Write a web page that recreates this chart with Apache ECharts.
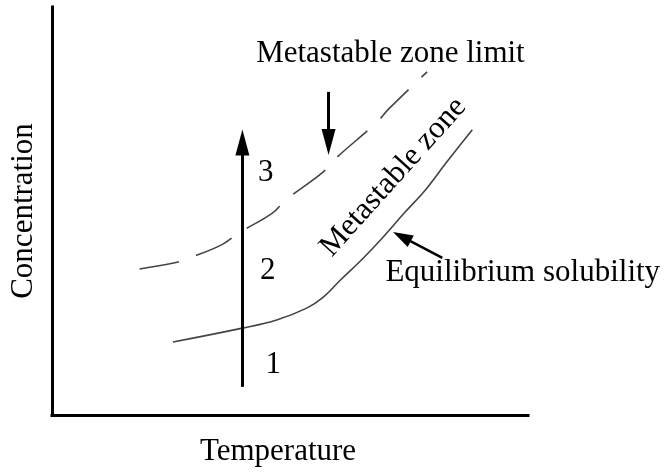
<!DOCTYPE html>
<html>
<head>
<meta charset="utf-8">
<script src="https://cdn.jsdelivr.net/npm/echarts@6/dist/echarts.min.js"></script>
<style>
  html, body { margin: 0; padding: 0; background: #fff; }
  #main { width: 665px; height: 476px; }
</style>
</head>
<body>
<div id="main"></div>
<script>
// curves (axis units 0..100)
var solTemp = [25.4, 40.0, 47.2, 53.5, 57.0, 60.6, 65.0, 69.4, 74.0, 78.4, 82.8, 88.3];
var solConc = [17.9, 21.3, 23.3, 26.2, 28.9, 33.1, 38.0, 43.4, 49.5, 55.1, 61.8, 69.9];
var limTemp = [18.4, 25.8, 28.9, 35.6, 39.2, 46.3, 49.1, 57.0, 59.7, 68.1, 70.9, 78.8];
var limConc = [35.8, 37.3, 38.5, 41.7, 44.6, 49.5, 52.7, 59.6, 63.0, 71.6, 75.2, 84.1];

// annotations
var noteText = ['Metastable zone limit', 'Equilibrium solubility', 'Metastable zone', '1', '2', '3'];
var noteTemp = [71.1, 98.9, 71.7, 46.5, 45.3, 44.9];
var noteConc = [88.4, 34.9, 58.3, 12.4, 35.3, 59.4];
var noteRot = [0, 0, 48, 0, 0, 0];

// arrows: [fromTemp, fromConc, toTemp, toConc]
var arrowUp = [40.0, 6.9, 40.0, 66.8];
var arrowDown = [58.1, 79.2, 58.1, 66.9];
var arrowSol = [82.0, 38.5, 73.5, 43.7];

var serif = 'Liberation Serif, Times New Roman, serif';

var chart = echarts.init(document.getElementById('main'), null, { renderer: 'canvas' });

function pairs(xs, ys) {
  return xs.map(function (x, i) { return [x, ys[i]]; });
}

var option = {
  animation: false,
  grid: { left: 51, right: 137, top: 7, bottom: 61 },
  xAxis: {
    type: 'value',
    min: 0,
    max: 100,
    name: 'Temperature',
    nameLocation: 'middle',
    nameGap: 21,
    nameTextStyle: { fontFamily: serif, fontSize: 31, color: '#000', padding: [0, 24, 0, 0] },
    axisLine: { show: true, lineStyle: { color: '#000', width: 3, cap: 'square' } },
    axisTick: { show: false },
    axisLabel: { show: false },
    splitLine: { show: false }
  },
  yAxis: {
    type: 'value',
    min: 0,
    max: 100,
    name: 'Concentration',
    nameLocation: 'middle',
    nameGap: 13,
    nameTextStyle: { fontFamily: serif, fontSize: 31, color: '#000' },
    axisLine: { show: true, lineStyle: { color: '#000', width: 3, cap: 'square' } },
    axisTick: { show: false },
    axisLabel: { show: false },
    splitLine: { show: false }
  },
  series: [
    {
      name: 'Equilibrium solubility',
      type: 'line',
      smooth: 0.4,
      symbol: 'none',
      data: pairs(solTemp, solConc),
      lineStyle: { color: '#444', width: 1.6 }
    },
    {
      name: 'Metastable zone limit',
      type: 'line',
      smooth: 0.4,
      symbol: 'none',
      data: pairs(limTemp, limConc),
      lineStyle: { color: '#444', width: 1.6, type: [40, 18] }
    },
    {
      name: 'arrows',
      type: 'line',
      data: [],
      markLine: {
        silent: true,
        symbol: ['none', 'triangle'],
        symbolSize: [14, 26],
        label: { show: false },
        lineStyle: { color: '#000', width: 3, type: 'solid' },
        data: [
          [{ coord: [arrowUp[0], arrowUp[1]] }, { coord: [arrowUp[2], arrowUp[3]] }],
          [{ coord: [arrowDown[0], arrowDown[1]] }, { coord: [arrowDown[2], arrowDown[3]] }],
          [
            { coord: [arrowSol[0], arrowSol[1]], lineStyle: { width: 2.5 } },
            { coord: [arrowSol[2], arrowSol[3]], symbolSize: [13, 20] }
          ]
        ]
      }
    },
    {
      name: 'notes',
      type: 'scatter',
      symbolSize: 0,
      silent: true,
      itemStyle: { opacity: 1 },
      data: noteText.map(function (t, i) {
        return {
          name: t,
          value: [noteTemp[i], noteConc[i]],
          label: { rotate: noteRot[i] }
        };
      }),
      label: {
        show: true,
        position: [0, 0],
        formatter: '{b}',
        align: 'center',
        verticalAlign: 'middle',
        fontFamily: serif,
        fontSize: 31,
        color: '#000',
        opacity: 1,
        textBorderWidth: 0
      }
    }
  ]
};

chart.setOption(option);
window.addEventListener('resize', chart.resize);
</script>
</body>
</html>
